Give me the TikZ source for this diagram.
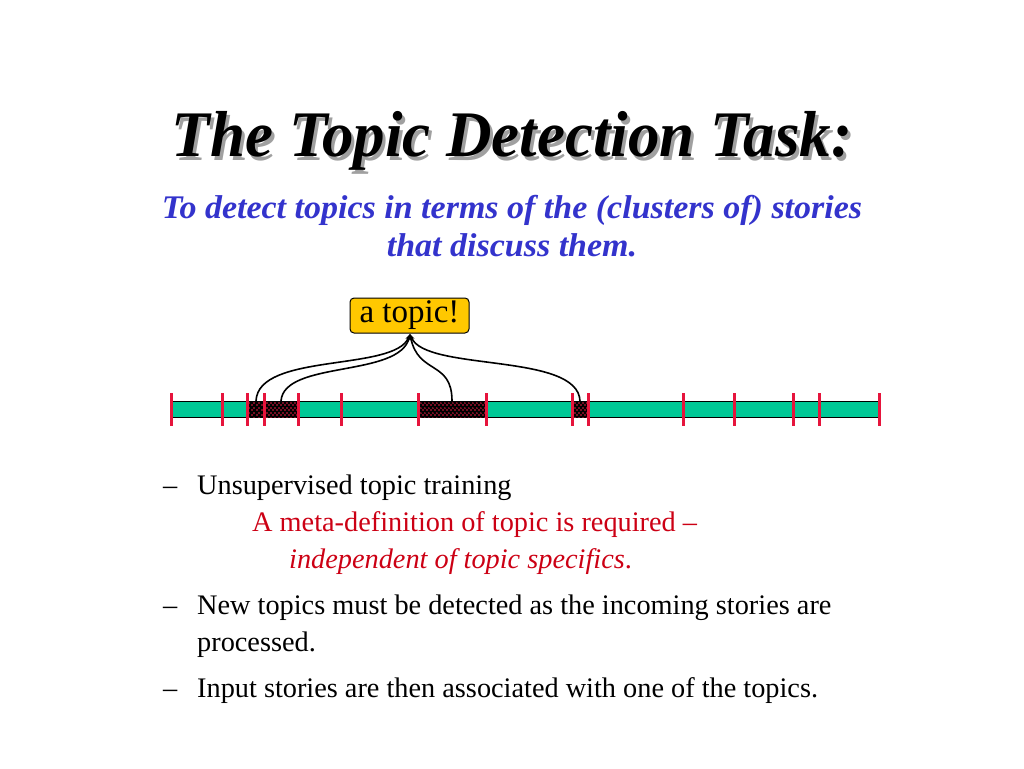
\documentclass[tikz,border=0pt]{standalone}
\usepackage{fontspec}
\usepackage{graphicx}
\setmainfont{Liberation Serif}
\usetikzlibrary{patterns,patterns.meta,arrows.meta}
\definecolor{barteal}{RGB}{0,200,150}
\definecolor{tickred}{RGB}{230,20,60}
\definecolor{dotred}{RGB}{235,30,70}
\definecolor{subblue}{RGB}{51,51,204}
\definecolor{txtred}{RGB}{204,0,20}
\definecolor{topicgold}{RGB}{255,200,0}
\definecolor{shadowgray}{RGB}{160,160,160}
\tikzdeclarepattern{
  name=storydots,
  type=uncolored,
  bottom left={(0pt,0pt)},
  top right={(4.4pt,4.4pt)},
  tile size={(4.4pt,4.4pt)},
  code={
    \pgfpathcircle{\pgfpoint{1.1pt}{1.1pt}}{0.95pt}
    \pgfpathcircle{\pgfpoint{3.3pt}{3.2pt}}{0.95pt}
    \pgfusepath{fill}
  }
}
\begin{document}
\begin{tikzpicture}[x=1pt,y=-1pt,
  txt/.style={inner sep=0pt,anchor=base west,font=\fontsize{28.3}{33}\selectfont},
  ticktk/.style={draw=tickred,line width=3pt},
  storybox/.style={draw=black,line width=1pt,fill=black,postaction={pattern=storydots,pattern color=dotred}},
  link/.style={line width=1.6pt,-{Stealth[length=6pt,width=5pt]}},
  topicbox/.style={draw=black,line width=1pt,fill=topicgold,rounded corners=4pt,inner sep=0pt,minimum width=119pt,minimum height=35pt,font=\fontsize{33}{36}\selectfont}
]
\useasboundingbox (0,0) rectangle (1024,768);
% title with shadow
\node[inner sep=0pt,anchor=base,text=shadowgray,font=\fontsize{65}{70}\selectfont\bfseries\itshape] (titleshadow) at (515,160) {\scalebox{0.97}[1]{The Topic Detection Task:}};
\node[inner sep=0pt,anchor=base,font=\fontsize{65}{70}\selectfont\bfseries\itshape] (title) at (512,156) {\scalebox{0.97}[1]{The Topic Detection Task:}};
% subtitle
\node[inner sep=0pt,anchor=base,text=subblue,font=\fontsize{33}{38}\selectfont\bfseries\itshape] (sub1) at (512,218) {\scalebox{1.03}[1]{To detect topics in terms of the (clusters of) stories}};
\node[inner sep=0pt,anchor=base,text=subblue,font=\fontsize{33}{38}\selectfont\bfseries\itshape] (sub2) at (512,256) {\scalebox{1.03}[1]{that discuss them.}};
% bar
\draw[fill=barteal,line width=1pt] (172,401) rectangle (878,417);
\node[storybox,inner sep=0pt,minimum width=17pt,minimum height=16pt,anchor=north west] (s1) at (247,401) {};
\node[storybox,inner sep=0pt,minimum width=34pt,minimum height=16pt,anchor=north west] (s2) at (264,401) {};
\node[storybox,inner sep=0pt,minimum width=68pt,minimum height=16pt,anchor=north west] (s3) at (418,401) {};
\node[storybox,inner sep=0pt,minimum width=16pt,minimum height=16pt,anchor=north west] (s4) at (572,401) {};
\foreach \tx in {171,222,247,264,298,341,418,486,572,588,683,734,793,819,879}
  \draw[ticktk] (\tx,393) -- (\tx,426);
% topic box
\node[topicbox] (topic) at (409.5,315.5) {a topic!};
\coordinate (apex) at (410,334);
\coordinate (e1) at (256,401);
\coordinate (e2) at (281,401);
\coordinate (e3) at (452,401);
\coordinate (e4) at (580,401);
\draw[link] (e1) .. controls (258,352) and (395,372) .. (apex);
\draw[link] (e2) .. controls (284,360) and (400,378) .. (apex);
\draw[link] (e3) .. controls (452,360) and (418,375) .. (apex);
\draw[link] (e4) .. controls (578,352) and (425,372) .. (apex);
% bullets
\node[txt] (d1) at (163,494) {–};
\node[txt] (b1) at (197,494) {Unsupervised topic training};
\node[txt,text=txtred] (r1) at (252,531) {A meta-definition of topic is required –};
\node[txt,text=txtred] (r2) at (289,568) {\textit{independent of topic specifics}.};
\node[txt] (d2) at (163,614) {–};
\node[txt] (b2) at (197,614) {New topics must be detected as the incoming stories are};
\node[txt] (b2b) at (197,651) {processed.};
\node[txt] (d3) at (163,697) {–};
\node[txt] (b3) at (197,697) {Input stories are then associated with one of the topics.};
\end{tikzpicture}
\end{document}
